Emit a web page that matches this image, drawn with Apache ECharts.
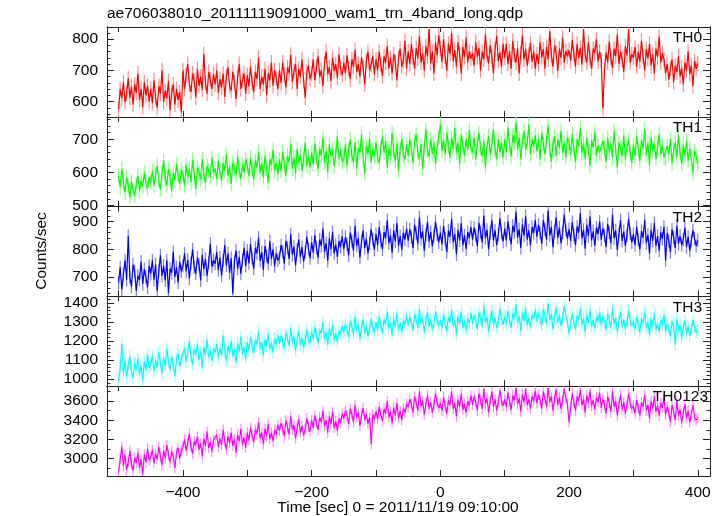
<!DOCTYPE html>
<html><head><meta charset="utf-8">
<script src="https://cdn.jsdelivr.net/npm/echarts@6/dist/echarts.min.js"></script>
<style>html,body{margin:0;padding:0;background:#fff}#c{width:723px;height:516px}</style>
</head><body><div id="c"></div>
<script>
// time bins (sec from 2011/11/19 09:10:00), one row = 50 s
const binStart = -500, binWidth = 2.5;
const bandNames = ['TH0', 'TH1', 'TH2', 'TH3', 'TH0123'];
const th0 = [
575,640,610,662,598,625,675,612,648,590,655,628,690,605,640,582,662,620,650,600,
640,595,668,612,580,650,625,700,598,635,610,665,572,628,655,590,640,605,630,565,
700,640,685,720,655,630,690,668,612,705,650,680,638,752,660,625,695,670,640,688,
655,700,628,672,645,690,615,680,710,650,635,695,662,608,678,720,640,668,690,625,
685,648,712,660,630,695,672,740,640,680,655,705,620,690,668,725,650,700,675,640,
700,660,725,685,645,710,690,750,662,698,720,640,705,680,735,668,612,695,715,672,
690,735,668,712,745,680,700,650,722,760,688,710,665,740,698,720,675,752,705,685,
725,690,748,705,672,735,712,765,695,720,680,742,710,655,730,760,700,718,745,688,
735,700,760,718,682,745,725,778,705,740,690,752,728,668,738,770,712,730,795,705,
760,720,785,742,705,772,738,810,725,755,700,778,745,832,722,760,690,790,748,812,
770,728,800,745,700,785,752,820,730,765,712,790,750,690,775,742,805,725,760,738,
755,715,790,742,772,700,760,735,815,748,722,780,745,690,768,810,730,758,712,785,
740,785,720,762,705,795,748,725,770,690,755,812,735,768,715,750,788,728,760,705,
752,720,790,742,768,705,775,735,825,748,712,780,755,698,770,740,805,725,762,745,
765,730,798,752,712,785,740,772,718,832,750,725,790,742,705,770,755,800,728,760,
735,578,700,758,725,792,740,708,770,745,815,720,760,735,695,778,748,832,725,752,
740,775,712,760,728,795,745,700,768,738,785,715,752,690,770,742,808,725,755,735,
690,720,670,705,735,662,715,695,745,680,708,655,725,700,760,688,715,650,730,705,
722];
const th1 = [
590,555,612,568,540,585,560,525,572,548,530,565,590,545,575,558,600,570,552,585,
570,605,560,592,620,575,548,598,635,580,560,610,588,545,600,575,625,590,565,608,
595,560,622,585,610,570,638,592,550,615,600,580,640,595,568,620,605,585,645,600,
612,580,635,600,575,628,605,655,590,618,565,630,610,592,648,605,580,625,600,640,
620,590,645,610,578,635,615,662,600,628,585,650,612,570,640,622,668,605,630,595,
640,605,662,625,590,650,630,685,612,645,598,670,628,655,605,640,690,620,648,615,
660,625,688,645,610,672,650,705,630,665,600,685,648,670,618,655,710,640,668,632,
640,685,620,668,700,650,632,690,612,675,660,715,645,598,680,655,702,630,668,648,
690,645,628,675,710,660,695,615,672,650,720,665,635,688,605,670,700,652,640,685,
650,700,672,628,695,715,660,640,685,610,678,730,665,648,700,655,690,625,675,705,
745,665,700,655,720,680,645,705,672,735,660,690,625,715,682,650,700,668,728,675,
660,705,640,688,720,672,650,695,615,678,710,655,685,730,668,640,700,662,690,645,
700,660,735,685,648,712,690,752,668,705,640,695,725,670,688,745,655,700,678,712,
665,700,640,720,685,655,695,742,670,632,688,710,650,698,675,725,660,690,645,705,
690,655,715,672,630,700,680,735,658,688,640,705,668,620,695,675,722,650,682,660,
655,695,672,632,705,660,688,645,725,668,615,690,675,650,712,640,680,698,658,628,
685,650,710,668,635,698,672,730,652,690,622,705,665,688,640,675,715,655,682,645,
640,680,655,700,628,668,690,645,712,660,625,685,650,695,635,672,640,598,665,650,
625];
const th2 = [
680,735,655,710,760,690,848,700,665,745,720,650,705,690,755,675,728,700,662,740,
712,760,690,745,650,722,778,705,740,688,760,642,730,715,790,700,735,680,755,720,
740,785,720,762,695,750,800,735,712,770,745,688,780,728,765,705,752,820,738,760,
748,790,725,770,705,760,815,742,785,715,768,640,755,795,730,772,712,760,805,740,
795,750,820,768,730,805,785,842,758,790,725,812,775,748,830,765,800,738,785,760,
770,815,792,748,830,805,765,855,780,810,742,798,835,772,808,755,790,845,802,768,
825,788,850,805,770,835,812,875,790,822,758,840,800,862,785,818,772,830,808,848,
800,845,818,778,860,830,795,885,812,840,770,828,868,805,838,785,822,872,835,798,
855,815,880,832,800,862,840,905,822,850,788,868,828,895,812,848,798,860,835,875,
830,872,845,805,888,858,820,915,838,865,795,852,898,828,862,810,848,900,855,825,
860,818,885,838,790,868,845,910,825,855,782,870,832,895,815,850,800,862,840,880,
835,878,850,810,895,862,825,922,840,870,800,858,905,832,868,815,852,912,860,828,
875,832,900,855,818,885,862,935,842,872,805,890,850,920,835,868,815,880,858,905,
845,888,860,820,905,872,835,940,850,880,808,865,915,842,878,822,860,925,870,838,
872,830,898,852,815,882,860,930,840,870,802,888,848,918,832,865,812,878,855,900,
835,875,850,808,892,860,822,925,840,868,798,855,905,830,865,812,850,910,858,825,
855,815,880,835,800,865,842,905,822,852,785,870,830,895,812,848,795,860,838,882,
760,858,830,790,872,842,805,885,820,848,815,835,878,808,845,795,830,868,838,812,
832];
const th3 = [
990,1060,1185,1030,1095,1010,1075,1120,1040,1005,1085,1050,1110,1025,1070,990,1095,1045,1130,1060,
1075,1125,1040,1100,1060,1145,1085,1030,1115,1070,1160,1090,1050,1120,1080,1015,1105,1135,1065,1100,
1110,1165,1090,1140,1200,1120,1075,1155,1130,1185,1100,1145,1060,1170,1125,1210,1115,1150,1095,1160,
1140,1185,1110,1165,1125,1230,1150,1095,1175,1135,1200,1120,1160,1085,1190,1145,1225,1130,1170,1105,
1195,1150,1220,1170,1135,1205,1185,1250,1160,1195,1125,1210,1175,1240,1155,1190,1140,1215,1180,1230,
1185,1230,1200,1160,1245,1215,1175,1270,1195,1225,1150,1210,1255,1180,1220,1165,1205,1260,1210,1190,
1250,1210,1275,1230,1190,1260,1240,1300,1215,1245,1180,1265,1225,1290,1205,1240,1195,1255,1235,1280,
1245,1290,1262,1220,1305,1275,1235,1330,1255,1285,1210,1270,1315,1240,1280,1225,1262,1320,1270,1245,
1300,1258,1330,1282,1240,1312,1290,1355,1265,1298,1230,1318,1275,1345,1258,1295,1245,1308,1285,1335,
1282,1325,1300,1255,1340,1312,1270,1370,1290,1320,1245,1305,1352,1275,1315,1262,1298,1358,1308,1280,
1310,1270,1340,1295,1250,1325,1302,1365,1278,1310,1235,1330,1288,1355,1268,1305,1255,1318,1295,1348,
1290,1335,1308,1262,1352,1320,1278,1385,1298,1328,1250,1312,1362,1282,1322,1268,1305,1372,1315,1285,
1330,1288,1358,1312,1270,1345,1320,1395,1295,1330,1255,1348,1305,1378,1285,1322,1272,1338,1315,1365,
1305,1350,1322,1278,1368,1335,1290,1400,1312,1342,1262,1325,1378,1295,1338,1280,1318,1385,1330,1300,
1240,1290,1345,1300,1262,1335,1310,1372,1285,1318,1248,1338,1295,1365,1275,1312,1265,1328,1305,1350,
1282,1328,1300,1258,1345,1312,1270,1375,1290,1320,1245,1305,1355,1275,1315,1262,1298,1360,1308,1280,
1302,1262,1330,1285,1245,1318,1292,1355,1270,1300,1232,1322,1280,1345,1260,1295,1250,1310,1288,1338,
1250,1292,1265,1225,1305,1278,1180,1320,1255,1285,1215,1270,1310,1240,1278,1228,1262,1312,1272,1245,
1255];
const th0123 = [
2850,2990,3120,2920,3040,2880,2960,3080,2940,2870,3010,2950,3060,2900,2990,2830,3040,2960,3100,2980,
3010,3090,2950,3050,2990,3120,3020,2930,3080,3000,3140,3040,2960,3070,3020,2900,3060,3110,3000,3080,
3120,3200,3080,3160,3260,3120,3050,3180,3140,3230,3090,3160,3020,3210,3130,3280,3110,3170,3070,3190,
3170,3250,3120,3210,3140,3300,3180,3090,3230,3160,3270,3130,3200,3060,3250,3180,3310,3150,3220,3110,
3270,3190,3320,3240,3170,3300,3260,3380,3210,3270,3150,3310,3230,3360,3200,3270,3180,3300,3250,3350,
3290,3370,3310,3230,3400,3330,3250,3440,3300,3350,3210,3320,3410,3270,3340,3240,3310,3420,3330,3280,
3400,3320,3450,3370,3300,3430,3380,3500,3340,3400,3270,3440,3360,3490,3320,3390,3290,3420,3370,3470,
3420,3500,3450,3360,3520,3460,3380,3560,3430,3480,3340,3450,3530,3400,3470,3360,3430,3150,3460,3410,
3490,3410,3540,3460,3390,3520,3470,3600,3430,3490,3370,3530,3450,3580,3420,3500,3400,3520,3480,3570,
3540,3620,3570,3480,3650,3580,3500,3700,3550,3600,3460,3570,3660,3520,3590,3480,3560,3680,3580,3530,
3580,3500,3640,3550,3470,3610,3560,3700,3520,3580,3440,3620,3540,3680,3510,3570,3480,3600,3550,3660,
3560,3650,3590,3500,3680,3610,3520,3730,3570,3630,3480,3600,3700,3540,3620,3500,3590,3710,3610,3550,
3620,3540,3690,3600,3510,3660,3610,3740,3570,3630,3490,3670,3590,3730,3560,3620,3520,3650,3600,3710,
3580,3670,3610,3520,3700,3630,3540,3740,3590,3650,3500,3620,3720,3560,3640,3520,3610,3730,3630,3570,
3380,3540,3680,3590,3500,3650,3600,3720,3560,3620,3480,3660,3580,3710,3550,3610,3510,3640,3590,3690,
3530,3620,3560,3470,3650,3580,3490,3700,3540,3600,3450,3570,3670,3510,3590,3470,3560,3680,3580,3520,
3550,3470,3610,3530,3450,3590,3540,3670,3500,3560,3420,3600,3520,3650,3490,3550,3450,3580,3530,3630,
3460,3540,3480,3380,3560,3490,3400,3600,3450,3510,3370,3480,3570,3420,3500,3380,3460,3560,3430,3400,
3420];
const bandValues = [th0, th1, th2, th3, th0123];
const bandErrors = [24, 22, 24, 32, 55];     // typical error bar half length (counts/sec)
const yMin = [551, 497, 630, 963, 2815];
const yMax = [839, 768, 954, 1435, 3757];
const yLabelStep = [100, 100, 100, 100, 200];
const yMinorStep = [20, 20, 20, 20, 100];
const xMin = -518, xMax = 419;
const xTickStep = 100, xLabelStep = 200;

const lineColors = ['#ff0000', '#00ff00', '#0000ff', '#00ffff', '#ff00ff'];
const errColors = ['#ff8c8c', '#8cff8c', '#7c7cff', '#99ffff', '#ff8cff'];

const FONT = "'Liberation Sans', Arial, Helvetica, sans-serif";
const FS = 15.5;
const AX = '#222';
const GL = 107, GR = 13, GT = 27, GH = 89.8;

const chart = echarts.init(document.getElementById('c'), null, {renderer: 'canvas'});

const grids = [], xAxes = [], yAxes = [], series = [], graphics = [];
function niceSplit(span, step) { return Math.max(1, Math.round(span / step)); }

bandNames.forEach((name, i) => {
  grids.push({left: GL, right: GR, top: GT + i * GH, height: GH, containLabel: false});
  const isBottom = i === bandNames.length - 1;
  const xBase = {
    type: 'value', gridIndex: i, min: xMin, max: xMax,
    splitNumber: niceSplit(xMax - xMin, xTickStep),
    splitLine: {show: false},
    axisLine: {show: true, onZero: false, lineStyle: {color: AX, width: 1}},
    axisTick: {show: true, inside: true, length: 6, lineStyle: {color: AX, width: 1}}
  };
  xAxes.push(Object.assign({}, xBase, {
    position: 'bottom',
    axisLabel: {
      show: isBottom, margin: 9, color: '#000', fontSize: FS, fontFamily: FONT,
      showMinLabel: false, showMaxLabel: false,
      formatter: v => (Math.round(v) % xLabelStep === 0 ? String(v).replace('-', '\u2212') : '')
    }
  }));
  xAxes.push(Object.assign({}, xBase, {position: 'top', axisLabel: {show: false},
    axisTick: {show: true, inside: true, length: 5, lineStyle: {color: AX, width: 1}}}));

  const span = yMax[i] - yMin[i];
  const majorStep = yLabelStep[i];
  const yBase = {
    type: 'value', gridIndex: i, min: yMin[i], max: yMax[i],
    splitLine: {show: false},
    axisLine: {show: true, onZero: false, lineStyle: {color: AX, width: 1}}
  };
  ['left', 'right'].forEach(pos => {
    yAxes.push(Object.assign({}, yBase, {
      position: pos,
      splitNumber: niceSplit(span, majorStep),
      axisTick: {show: true, inside: true, length: 7, lineStyle: {color: AX, width: 1}},
      axisLabel: {
        show: pos === 'left', margin: 9, color: '#000', fontSize: FS, fontFamily: FONT,
        showMinLabel: false, showMaxLabel: false,
        formatter: v => (Math.round(v) % majorStep === 0 ? String(v) : '')
      }
    }));
    yAxes.push(Object.assign({}, yBase, {
      position: pos,
      splitNumber: niceSplit(span, yMinorStep[i]),
      axisTick: {show: true, inside: true, length: 3.5, lineStyle: {color: AX, width: 1}},
      axisLabel: {show: false}
    }));
  });

  const pts = bandValues[i].map((v, k) => [binStart + k * binWidth, v]);
  const err = bandErrors[i];
  series.push({
    type: 'custom', xAxisIndex: 2 * i, yAxisIndex: 4 * i, data: pts, clip: true,
    silent: true, z: 1, encode: {x: 0, y: 1},
    renderItem: (params, api) => {
      const t = api.value(0), v = api.value(1);
      const a = api.coord([t, v - err]), b = api.coord([t, v + err]);
      return {type: 'line', shape: {x1: a[0], y1: a[1], x2: b[0], y2: b[1]},
              style: {stroke: errColors[i], lineWidth: 1.2}};
    }
  });
  series.push({
    type: 'line', xAxisIndex: 2 * i, yAxisIndex: 4 * i, data: pts, symbol: 'none',
    z: 2, clip: true, silent: true,
    lineStyle: {color: lineColors[i], width: 1.2}
  });
  graphics.push({
    type: 'text', x: isBottom ? 708 : 702, y: GT + i * GH + 11, z: 100,
    style: {text: name, font: FS + "px " + FONT, fill: '#000', textAlign: 'right', textVerticalAlign: 'middle'}
  });
});

graphics.push({type: 'text', x: GL, y: 14,
  style: {text: 'ae706038010_20111119091000_wam1_trn_4band_long.qdp', font: FS + "px " + FONT, fill: '#000', textVerticalAlign: 'middle'}});
graphics.push({type: 'text', x: 398, y: 508,
  style: {text: 'Time [sec] 0 = 2011/11/19 09:10:00', font: FS + "px " + FONT, fill: '#000', textAlign: 'center', textVerticalAlign: 'middle'}});
graphics.push({type: 'text', x: 42, y: 251, rotation: Math.PI / 2,
  style: {text: 'Counts/sec', font: FS + "px " + FONT, fill: '#000', textAlign: 'center', textVerticalAlign: 'middle'}});

chart.setOption({
  animation: false,
  backgroundColor: '#fff',
  grid: grids, xAxis: xAxes, yAxis: yAxes, series: series,
  graphic: graphics
});
</script></body></html>
